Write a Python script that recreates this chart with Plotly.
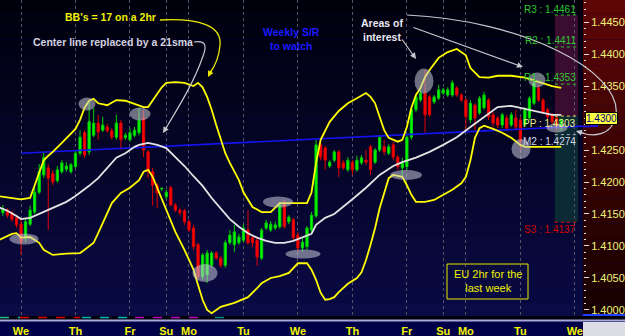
import plotly.graph_objects as go

# ---------------- data ----------------
bar_index = list(range(-4, 120))

opens = [
    1.4152, 1.4156, 1.4152, 1.4144,
    1.4134, 1.4113, 1.4134, 1.4153, 1.4184, 1.4211, 1.4222, 1.4213, 1.4202, 1.4216,
    1.4220, 1.4216, 1.4224, 1.4245, 1.4277, 1.4247, 1.4273, 1.4292, 1.4281, 1.4286,
    1.4280, 1.4270, 1.4292, 1.4269, 1.4266, 1.4273, 1.4277, 1.4300, 1.4247, 1.4216,
    1.4195, 1.4189, 1.4177, 1.4191, 1.4164, 1.4156, 1.4155, 1.4138, 1.4128, 1.4102,
    1.4052, 1.4055, 1.4070, 1.4089, 1.4081, 1.4070, 1.4105, 1.4102, 1.4105, 1.4109,
    1.4125, 1.4113, 1.4109, 1.4081, 1.4128, 1.4125, 1.4128, 1.4130, 1.4167, 1.4138,
    1.4141, 1.4117, 1.4097, 1.4099, 1.4125, 1.4147, 1.4258, 1.4253, 1.4225, 1.4234,
    1.4247, 1.4230, 1.4219, 1.4231, 1.4219, 1.4230, 1.4234, 1.4255, 1.4231, 1.4250,
    1.4255, 1.4245, 1.4258, 1.4239, 1.4222, 1.4224, 1.4270, 1.4313, 1.4328, 1.4339,
    1.4333, 1.4325, 1.4331, 1.4339, 1.4336, 1.4336, 1.4347, 1.4336, 1.4328, 1.4297,
    1.4320, 1.4308, 1.4316, 1.4328, 1.4305, 1.4300, 1.4289, 1.4300, 1.4289, 1.4300,
    1.4297, 1.4289, 1.4300, 1.4323, 1.4347, 1.4328, 1.4313, 1.4305, 1.4300, 1.4284,
]
highs = [
    1.4164, 1.4159, 1.4155, 1.4148,
    1.4141, 1.4144, 1.4163, 1.4194, 1.4228, 1.4247, 1.4228, 1.4219, 1.4225, 1.4234,
    1.4231, 1.4230, 1.4250, 1.4281, 1.4281, 1.4325, 1.4316, 1.4305, 1.4302, 1.4291,
    1.4284, 1.4305, 1.4297, 1.4277, 1.4284, 1.4286, 1.4316, 1.4313, 1.4250, 1.4222,
    1.4198, 1.4192, 1.4188, 1.4194, 1.4167, 1.4159, 1.4158, 1.4141, 1.4133, 1.4105,
    1.4089, 1.4094, 1.4092, 1.4092, 1.4084, 1.4109, 1.4125, 1.4133, 1.4119, 1.4134,
    1.4156, 1.4117, 1.4113, 1.4128, 1.4141, 1.4139, 1.4138, 1.4169, 1.4172, 1.4148,
    1.4144, 1.4122, 1.4113, 1.4131, 1.4153, 1.4266, 1.4261, 1.4256, 1.4234, 1.4250,
    1.4250, 1.4234, 1.4239, 1.4234, 1.4241, 1.4242, 1.4250, 1.4258, 1.4253, 1.4273,
    1.4266, 1.4259, 1.4263, 1.4242, 1.4238, 1.4273, 1.4316, 1.4336, 1.4344, 1.4375,
    1.4336, 1.4336, 1.4352, 1.4347, 1.4348, 1.4359, 1.4350, 1.4339, 1.4331, 1.4328,
    1.4323, 1.4334, 1.4341, 1.4331, 1.4309, 1.4303, 1.4308, 1.4305, 1.4309, 1.4313,
    1.4302, 1.4317, 1.4334, 1.4363, 1.4352, 1.4331, 1.4316, 1.4308, 1.4303, 1.4297,
]
lows = [
    1.4147, 1.4144, 1.4138, 1.4128,
    1.4086, 1.4106, 1.4131, 1.4150, 1.4181, 1.4206, 1.4125, 1.4195, 1.4199, 1.4213,
    1.4216, 1.4213, 1.4222, 1.4241, 1.4238, 1.4242, 1.4270, 1.4266, 1.4278, 1.4277,
    1.4266, 1.4266, 1.4250, 1.4266, 1.4263, 1.4270, 1.4273, 1.4239, 1.4206, 1.4163,
    1.4159, 1.4186, 1.4173, 1.4163, 1.4153, 1.4148, 1.4133, 1.4122, 1.4094, 1.4048,
    1.4047, 1.4042, 1.4066, 1.4078, 1.4066, 1.4066, 1.4102, 1.4091, 1.4102, 1.4106,
    1.4102, 1.4098, 1.4069, 1.4078, 1.4125, 1.4122, 1.4125, 1.4127, 1.4127, 1.4134,
    1.4109, 1.4091, 1.4091, 1.4094, 1.4120, 1.4144, 1.4234, 1.4219, 1.4222, 1.4231,
    1.4208, 1.4219, 1.4216, 1.4211, 1.4216, 1.4227, 1.4227, 1.4211, 1.4228, 1.4247,
    1.4242, 1.4242, 1.4234, 1.4219, 1.4208, 1.4219, 1.4266, 1.4309, 1.4325, 1.4277,
    1.4302, 1.4322, 1.4328, 1.4336, 1.4333, 1.4333, 1.4333, 1.4325, 1.4281, 1.4292,
    1.4281, 1.4305, 1.4313, 1.4297, 1.4286, 1.4284, 1.4284, 1.4280, 1.4286, 1.4281,
    1.4250, 1.4286, 1.4297, 1.4320, 1.4325, 1.4306, 1.4298, 1.4291, 1.4281, 1.4281,
]
closes = [
    1.4158, 1.4148, 1.4142, 1.4133,
    1.4106, 1.4138, 1.4156, 1.4184, 1.4216, 1.4238, 1.4206, 1.4200, 1.4219, 1.4230,
    1.4225, 1.4227, 1.4245, 1.4270, 1.4242, 1.4294, 1.4292, 1.4278, 1.4289, 1.4280,
    1.4270, 1.4292, 1.4266, 1.4273, 1.4277, 1.4281, 1.4297, 1.4250, 1.4216, 1.4195,
    1.4183, 1.4190, 1.4184, 1.4164, 1.4156, 1.4152, 1.4138, 1.4125, 1.4099, 1.4052,
    1.4086, 1.4089, 1.4089, 1.4081, 1.4070, 1.4105, 1.4117, 1.4122, 1.4114, 1.4128,
    1.4105, 1.4105, 1.4083, 1.4125, 1.4136, 1.4134, 1.4133, 1.4164, 1.4130, 1.4145,
    1.4113, 1.4097, 1.4106, 1.4128, 1.4148, 1.4258, 1.4239, 1.4234, 1.4231, 1.4247,
    1.4222, 1.4222, 1.4234, 1.4219, 1.4234, 1.4238, 1.4231, 1.4219, 1.4250, 1.4270,
    1.4247, 1.4255, 1.4239, 1.4224, 1.4230, 1.4270, 1.4313, 1.4333, 1.4339, 1.4305,
    1.4305, 1.4333, 1.4344, 1.4344, 1.4344, 1.4355, 1.4336, 1.4328, 1.4302, 1.4323,
    1.4300, 1.4331, 1.4336, 1.4302, 1.4292, 1.4289, 1.4305, 1.4284, 1.4305, 1.4286,
    1.4263, 1.4313, 1.4331, 1.4355, 1.4328, 1.4309, 1.4302, 1.4294, 1.4286, 1.4298,
]

upper_x = [-5, -2, 0, 2, 3, 4, 5, 6, 7, 9, 11, 12, 13, 14, 15, 16, 17, 19, 21, 23,
           25, 27, 28, 29, 30, 31, 32, 34, 36, 38, 39, 40, 41, 42, 43, 44, 45, 46, 47, 48,
           49, 50, 51, 53, 55, 57, 59, 61, 63, 64, 65, 66, 67, 68, 70, 72, 74, 76, 77, 78,
           79, 80, 81, 83, 84, 85, 86, 87, 88, 89, 90, 92, 94, 96, 98, 99, 101, 103, 105, 108,
           111, 114, 117, 119]
upper_band = [1.4178, 1.4175, 1.4173, 1.4175, 1.4195, 1.4216, 1.4234, 1.4241, 1.4247, 1.4261,
              1.4275, 1.4283, 1.4297, 1.4316, 1.4327, 1.4330, 1.4323, 1.4320, 1.4328, 1.4327,
              1.4322, 1.4317, 1.4317, 1.4328, 1.4339, 1.4348, 1.4355, 1.4356, 1.4355, 1.4350,
              1.4355, 1.4348, 1.4333, 1.4313, 1.4289, 1.4266, 1.4245, 1.4230, 1.4216, 1.4203,
              1.4184, 1.4172, 1.4161, 1.4153, 1.4153, 1.4167, 1.4167, 1.4166, 1.4167, 1.4184,
              1.4230, 1.4266, 1.4281, 1.4294, 1.4311, 1.4323, 1.4331, 1.4339, 1.4333, 1.4323,
              1.4302, 1.4281, 1.4269, 1.4263, 1.4266, 1.4286, 1.4316, 1.4336, 1.4347, 1.4364,
              1.4375, 1.4394, 1.4403, 1.4408, 1.4398, 1.4378, 1.4364, 1.4363, 1.4366, 1.4366,
              1.4363, 1.4356, 1.4350, 1.4347]

lower_x = [-5, -2, -1, 0, 2, 4, 5, 7, 10, 13, 14, 16, 17, 19, 20, 22, 24, 26, 27, 28,
           29, 30, 32, 34, 36, 38, 39, 40, 41, 42, 43, 44, 47, 50, 52, 53, 55, 57, 59, 60,
           61, 63, 64, 65, 66, 67, 68, 69, 70, 72, 74, 75, 76, 77, 78, 79, 80, 81, 82, 84,
           85, 86, 87, 89, 91, 93, 95, 97, 98, 99, 100, 101, 102, 104, 106, 108, 110, 111, 114, 119]
lower_band = [1.4109, 1.4119, 1.4120, 1.4113, 1.4114, 1.4105, 1.4094, 1.4086, 1.4088, 1.4089,
              1.4094, 1.4105, 1.4120, 1.4152, 1.4167, 1.4183, 1.4191, 1.4203, 1.4216, 1.4219,
              1.4208, 1.4191, 1.4156, 1.4122, 1.4094, 1.4063, 1.4039, 1.4016, 1.4000, 1.3995,
              1.4000, 1.4005, 1.4011, 1.4020, 1.4034, 1.4042, 1.4050, 1.4053, 1.4058, 1.4066,
              1.4073, 1.4073, 1.4063, 1.4047, 1.4027, 1.4016, 1.4017, 1.4020, 1.4028, 1.4041,
              1.4050, 1.4059, 1.4078, 1.4102, 1.4128, 1.4159, 1.4184, 1.4206, 1.4211, 1.4208,
              1.4195, 1.4180, 1.4169, 1.4169, 1.4172, 1.4180, 1.4188, 1.4198, 1.4208, 1.4234,
              1.4269, 1.4284, 1.4288, 1.4283, 1.4277, 1.4269, 1.4258, 1.4255, 1.4255, 1.4255]

sma_x = [-5, -3, -1, 0, 2, 4, 6, 8, 10, 12, 14, 15, 17, 19, 21, 23, 25, 26, 28, 30,
         32, 34, 36, 38, 40, 42, 44, 46, 48, 50, 52, 54, 56, 58, 60, 62, 64, 65, 67, 69,
         71, 73, 76, 79, 82, 84, 87, 90, 93, 96, 99, 102, 105, 108, 111, 113, 115, 117, 119]
sma21 = [1.4161, 1.4155, 1.4147, 1.4142, 1.4144, 1.4150, 1.4156, 1.4163, 1.4169, 1.4178,
         1.4188, 1.4194, 1.4206, 1.4222, 1.4238, 1.4245, 1.4255, 1.4258, 1.4261, 1.4258,
         1.4253, 1.4239, 1.4225, 1.4209, 1.4194, 1.4175, 1.4158, 1.4142, 1.4130, 1.4120,
         1.4113, 1.4108, 1.4105, 1.4105, 1.4108, 1.4113, 1.4119, 1.4133, 1.4144, 1.4150,
         1.4161, 1.4173, 1.4191, 1.4211, 1.4225, 1.4231, 1.4238, 1.4247, 1.4258, 1.4270,
         1.4286, 1.4302, 1.4317, 1.4319, 1.4314, 1.4311, 1.4308, 1.4305, 1.4305]

trend_x = [0, 126]
trend_y = [1.4245, 1.4288]

day_ticks = [0, 12, 24, 32, 37, 49, 61, 73, 85, 93, 98, 110, 122]
day_labels = ["We", "Th", "Fr", "Su", "Mo", "Tu", "We", "Th", "Fr", "Su", "Mo", "Tu", "We"]

pivot_names = ["R3", "R2", "R1", "PP", "M2", "S3"]
pivot_levels = [1.4461, 1.4411, 1.4353, 1.4303, 1.4274, 1.4137]
pivot_colors = ["#2ec82e", "#2ec82e", "#2ec82e", "#ecec90", "#d8d8e8", "#d40000"]
pivot_line_colors = ["#2ec82e", "#2ec82e", "#2ec82e", "#e8e060", "#b0b0c0", "#d40000"]
pivot_start, pivot_end = 117.6, 122.7
last_price = 1.4300

y_ticks = [1.4000, 1.4050, 1.4100, 1.4150, 1.4200, 1.4250, 1.4300, 1.4350, 1.4400, 1.4450]
y_range = [1.39906, 1.44844]
x_range = [-4.63, 123.8]

# ---------------- layout helpers ----------------
W, H = 625, 336
PW, PH = 583, 316
FONT = "Liberation Sans, Arial, sans-serif"


def px(x):
    return x / PW


def py(y):
    return 1 - y / PH


def lerp(c0, c1, t):
    return "rgb(%d,%d,%d)" % tuple(round(a + (b - a) * t) for a, b in zip(c0, c1))


shapes = []
# plot background gradient
N = 24
for k in range(N):
    shapes.append(dict(type="rect", xref="paper", yref="paper", x0=0, x1=1,
                       y0=py(k * PH / N), y1=py((k + 1) * PH / N),
                       fillcolor=lerp((0, 0, 12), (10, 10, 70), (k + 0.5) / N),
                       line=dict(width=0), layer="below"))
# right price panel gradient
for k in range(N):
    shapes.append(dict(type="rect", xref="paper", yref="paper", x0=1, x1=W / PW,
                       y0=py(k * PH / N), y1=py((k + 1) * PH / N),
                       fillcolor=lerp((96, 6, 6), (22, 0, 0), (k + 0.5) / N),
                       line=dict(width=0), layer="below"))
# bottom strip + separator
shapes.append(dict(type="rect", xref="paper", yref="paper", x0=0, x1=W / PW,
                   y0=py(320), y1=py(316), fillcolor="#00000c", line=dict(width=0), layer="below"))
shapes.append(dict(type="line", xref="paper", yref="paper", x0=0, x1=W / PW,
                   y0=py(320.5), y1=py(320.5), line=dict(color="#a8a8d8", width=2), layer="below"))
shapes.append(dict(type="rect", xref="paper", yref="paper", x0=1, x1=W / PW,
                   y0=py(336), y1=py(322), fillcolor="#dcdce4", line=dict(width=0), layer="below"))
shapes.append(dict(type="line", xref="paper", yref="paper", x0=1, x1=W / PW,
                   y0=py(315), y1=py(315), line=dict(color="#2040ff", width=2), layer="below"))
# indicator dots along the bottom
for a, b, c in [(0, 20, "#20c0a0"), (20, 80, "#e00000"), (82, 130, "#00b8c8"),
                (135, 200, "#c000c0"), (215, 228, "#008890")]:
    shapes.append(dict(type="line", xref="paper", yref="paper", x0=px(a), x1=px(b),
                       y0=py(317.5), y1=py(317.5), line=dict(color=c, width=1.5, dash="dash"),
                       layer="below"))

# pivot zone
shapes.append(dict(type="rect", xref="x", yref="y", x0=pivot_start, x1=pivot_end,
                   y0=pivot_levels[3], y1=pivot_levels[0], fillcolor="#3a0c30",
                   line=dict(width=0), layer="below"))
shapes.append(dict(type="rect", xref="x", yref="y", x0=pivot_start, x1=pivot_end,
                   y0=pivot_levels[5], y1=pivot_levels[3], fillcolor="#0c2a34",
                   line=dict(width=0), layer="below"))
for lev, col in zip(pivot_levels, pivot_line_colors):
    shapes.append(dict(type="line", xref="x", yref="y", x0=pivot_start, x1=pivot_end,
                       y0=lev, y1=lev, line=dict(color=col, width=1, dash="dot")))

# trend line continuing a little into the price panel
shapes.append(dict(type="line", xref="paper", yref="paper", x0=1, x1=px(598),
                   y0=py(126.6), y1=py(125.9), line=dict(color="#1414f0", width=1.6)))

# highlight ellipses (cx, cy, w, h in pixels)
for cx, cy, w, h in [(87, 104, 17, 13), (140, 114, 21, 13), (24, 239, 29, 11),
                     (205, 273, 25, 18), (278, 202, 30, 11), (303, 254, 35, 9),
                     (424, 81, 19, 25), (537, 80, 17, 15), (521, 149, 19, 20),
                     (557, 128, 21, 9), (406, 175, 32, 10)]:
    shapes.append(dict(type="circle", xref="paper", yref="paper",
                       x0=px(cx - w / 2), x1=px(cx + w / 2), y0=py(cy + h / 2), y1=py(cy - h / 2),
                       fillcolor="rgba(200,200,215,0.55)", line=dict(width=0)))


def path(points):
    s = "M %.5f,%.5f" % (px(points[0][0]), py(points[0][1]))
    rest = points[1:]
    for i in range(0, len(rest), 3):
        s += " C " + " ".join("%.5f,%.5f" % (px(x), py(y)) for x, y in rest[i:i + 3])
    return s


# yellow curve arrow
shapes.append(dict(type="path", xref="paper", yref="paper",
                   path=path([(160, 20), (200, 18), (222, 26), (220, 45),
                              (219, 58), (215, 66), (210, 73)]),
                   line=dict(color="#e8e800", width=1.3)))
# grey curve arrow
shapes.append(dict(type="path", xref="paper", yref="paper",
                   path=path([(194, 42), (206, 40), (207, 46), (203, 56),
                              (195, 80), (180, 105), (166, 128)]),
                   line=dict(color="#c8c8d0", width=1.2)))
# big loop arrow
shapes.append(dict(type="path", xref="paper", yref="paper",
                   path=path([(407, 15), (520, 20), (622, 70), (616, 115),
                              (612, 137), (592, 137), (579, 132)]),
                   line=dict(color="#c8c8d0", width=1.2)))
# text box
shapes.append(dict(type="rect", xref="paper", yref="paper", x0=px(447), x1=px(528),
                   y0=py(299), y1=py(264), line=dict(color="#e8e800", width=1)))

annotations = []


def text(x, y, t, color, size=11, bold=True, xanchor="center", align="center"):
    annotations.append(dict(x=px(x), y=py(y), xref="paper", yref="paper", text=t,
                            showarrow=False, xanchor=xanchor, yanchor="middle", align=align,
                            font=dict(family=FONT, size=size, color=color,
                                      weight="bold" if bold else "normal")))


def arrow(hx, hy, tx, ty, color):
    annotations.append(dict(x=px(hx), y=py(hy), xref="paper", yref="paper", text="",
                            showarrow=True, ax=tx - hx, ay=ty - hy, arrowhead=2,
                            arrowsize=1, arrowwidth=1.2, arrowcolor=color))


text(110, 17, "BB's = 17 on a 2hr", "#f0f000", size=10.5)
text(113, 42, "Center line replaced by a 21sma", "#d4d4e0", size=10.5)
text(291, 39, "Weekly S/R<br>to watch", "#1a1aff", size=10.5)
text(382, 30, "Areas of<br>interest", "#e8e8f0", size=10.5)
text(488, 281, "EU 2hr for the<br>last week", "#f0f000", bold=False)

arrow(208, 77, 212, 69, "#e8e800")
arrow(163, 133, 168, 125, "#c8c8d0")
arrow(416, 59, 401, 38, "#c8c8d0")
arrow(523, 67, 412, 27, "#c8c8d0")
arrow(576, 131, 586, 134, "#c8c8d0")

# pivot labels
label_y_off = [-5, -6, -7, 7, 7, 7]
for name, lev, col, off in zip(pivot_names, pivot_levels, pivot_colors, label_y_off):
    annotations.append(dict(x=pivot_end, y=lev, xref="x", yref="y", xanchor="right",
                            yanchor="middle", yshift=-off, showarrow=False,
                            text="%s : %.4f" % (name, lev),
                            font=dict(family=FONT, size=10, color=col)))
# last price marker (covers the 1.4300 tick label, as in the original)
annotations.append(dict(x=1.003, y=last_price, xref="paper", yref="y", xanchor="left",
                        yanchor="middle", showarrow=False, text="%.4f" % last_price,
                        bgcolor="#ffff40", bordercolor="#000000", borderwidth=1, borderpad=0,
                        font=dict(family=FONT, size=10, color="#000080")))

y_ticktext = ["" if abs(v - last_price) < 1e-9 else "%.4f" % v for v in y_ticks]

# ---------------- traces ----------------
fig = go.Figure()
fig.add_trace(go.Candlestick(
    x=bar_index, open=opens, high=highs, low=lows, close=closes,
    increasing=dict(line=dict(color="#00d000", width=1), fillcolor="#00ff00"),
    decreasing=dict(line=dict(color="#e00000", width=1), fillcolor="#ff0000"),
    whiskerwidth=0, showlegend=False, hoverinfo="skip"))
fig.add_trace(go.Scatter(x=trend_x, y=trend_y, mode="lines",
                         line=dict(color="#1414f0", width=1.6), showlegend=False, hoverinfo="skip"))
fig.add_trace(go.Scatter(x=sma_x, y=sma21, mode="lines",
                         line=dict(color="#e4e4e4", width=1.8), showlegend=False, hoverinfo="skip"))
fig.add_trace(go.Scatter(x=upper_x, y=upper_band, mode="lines",
                         line=dict(color="#ffff00", width=1.8), showlegend=False, hoverinfo="skip"))
fig.add_trace(go.Scatter(x=lower_x, y=lower_band, mode="lines",
                         line=dict(color="#ffff00", width=1.8), showlegend=False, hoverinfo="skip"))

fig.update_layout(
    width=W, height=H,
    margin=dict(l=0, r=W - PW, t=0, b=H - PH),
    paper_bgcolor="#000048", plot_bgcolor="rgba(0,0,0,0)",
    showlegend=False, shapes=shapes, annotations=annotations,
    xaxis=dict(range=x_range, rangeslider=dict(visible=False), tickvals=day_ticks,
               ticktext=day_labels, showgrid=True, gridcolor="#55556a", griddash="dot",
               gridwidth=1, zeroline=False, showline=False, ticks="outside", ticklen=5,
               tickcolor="rgba(0,0,0,0)",
               tickfont=dict(family=FONT, size=11, color="#f4f400", weight="bold")),
    yaxis=dict(range=y_range, side="right", tickvals=y_ticks, ticktext=y_ticktext,
               showgrid=False, zeroline=False, showline=False, ticks="outside", ticklen=5,
               tickcolor="#e0e0e0",
               minor=dict(dtick=0.001, ticks="outside", ticklen=2, tickcolor="#e0e0e0"),
               tickfont=dict(family=FONT, size=11, color="#f2f27a")),
)

fig.write_html("out.html")
